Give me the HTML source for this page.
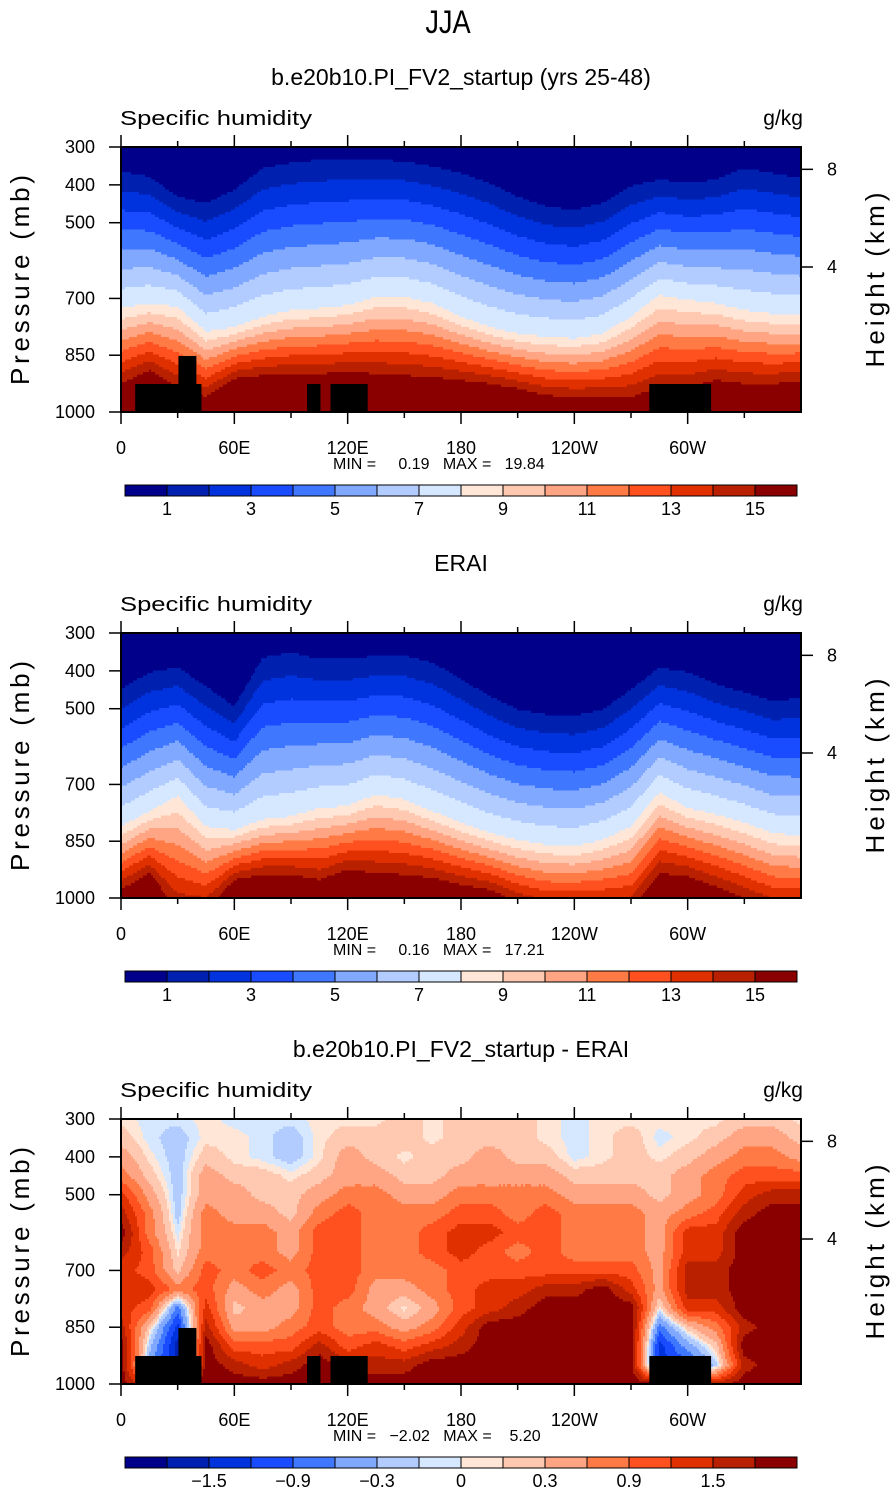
<!DOCTYPE html>
<html><head><meta charset="utf-8">
<style>
html,body{margin:0;padding:0;background:#fff;}
body{width:895px;height:1493px;overflow:hidden;}
svg{display:block;font-family:"Liberation Sans",sans-serif;}
.pre{white-space:pre;}
</style></head>
<body>
<svg id="fig" width="895" height="1493" viewBox="0 0 895 1493" xmlns="http://www.w3.org/2000/svg">
<text x="448" y="33" text-anchor="middle" font-size="32" font-weight="300" transform="scale(0.85,1)" style="transform-origin:448px 0" fill="#000">JJA</text>
</svg>
<script>
// ---------- data ----------
const lons = [0,15,30,45,60,75,90,105,120,135,150,165,180,195,210,225,240,255,270,285,300,315,330,345,360];
// model: pressure (mb) of q=1, q=8, q=15 contours
const modelP1  = [364,378,431,448,413,356,342,334,332,334,338,351,369,395,431,457,466,448,404,386,395,386,356,369,382];
const modelP8  = [726,713,722,788,775,748,731,726,718,695,695,713,748,775,793,801,806,793,748,691,704,713,731,740,744];
const modelP15 = [925,890,934,960,912,903,899,899,894,899,903,908,916,925,938,956,960,960,960,934,934,916,925,925,920];
// ERAI
const eraiP1  = [449,404,391,440,494,365,351,369,369,360,360,378,422,466,502,515,519,502,449,391,404,435,457,480,471];
const eraiP8  = [811,771,731,811,820,793,784,762,757,726,740,771,801,828,846,859,864,846,811,722,762,779,801,828,837];
const eraiP15 = [978,934,1030,1030,952,938,938,952,925,934,938,947,965,978,1010,1030,1030,1030,1030,934,943,970,1000,1030,1030];
// difference grid (g/kg): rows = pressure levels, cols = lons
const diffPres = [300,350,400,450,500,550,600,650,700,750,800,850,900,950,1000];
const diffVals = [
[0.05,-0.05,-0.05,0.05,-0.05,-0.05,-0.05,0.05,0.05,0.05,0.2,0.05,0.2,0.2,0.2,0.05,-0.05,0.05,0.05,0.05,0.05,0.05,0.2,0.2,0.05],
[0.2,-0.05,-0.2,0.05,0.05,-0.05,-0.2,0.05,0.2,0.2,0.2,0.05,0.2,0.2,0.2,0.05,-0.05,0.05,0.2,-0.05,0.05,0.2,0.45,0.45,0.2],
[0.45,0.05,-0.2,0.2,0.05,-0.05,-0.2,0.05,0.45,0.2,0.05,0.2,0.2,0.45,0.2,0.2,-0.05,0.05,0.2,0.05,0.2,0.45,0.75,0.75,0.45],
[0.75,0.2,-0.2,0.45,0.2,0.2,0.05,0.2,0.45,0.45,0.2,0.2,0.45,0.45,0.45,0.45,0.2,0.2,0.2,0.2,0.45,0.75,1.05,1.05,1.05],
[1.35,0.45,-0.2,0.45,0.45,0.2,0.2,0.45,0.75,0.75,0.45,0.45,0.75,0.75,0.75,0.75,0.45,0.45,0.45,0.2,0.45,0.75,1.35,1.65,1.65],
[1.65,0.75,-0.2,0.75,0.45,0.45,0.2,0.75,1.05,0.75,0.75,0.75,1.05,1.05,0.75,1.05,0.75,0.75,0.75,0.45,0.75,1.05,1.65,2.0,2.0],
[2.0,0.75,-0.05,0.75,0.75,0.75,0.45,1.05,1.05,0.75,0.75,1.05,1.35,1.35,1.05,1.05,0.75,0.75,0.75,0.45,1.35,1.35,2.0,2.0,2.0],
[1.65,1.05,0.05,0.75,0.75,0.75,0.45,1.05,1.05,0.75,0.75,1.05,1.35,1.05,0.75,1.05,0.75,0.75,0.75,0.45,1.35,1.35,2.0,2.0,2.0],
[1.35,1.05,0.2,1.05,0.75,1.05,0.75,1.05,1.05,0.75,0.75,0.75,1.05,1.05,1.05,1.05,1.05,1.05,1.05,0.45,1.65,1.65,2.0,2.0,2.0],
[1.35,1.35,0.75,1.05,0.45,0.75,0.45,1.05,1.05,0.45,0.45,0.75,1.05,1.35,1.35,1.65,1.65,2.0,1.35,0.45,1.65,1.65,2.0,2.0,2.0],
[1.35,1.05,-0.75,1.35,0.2,0.45,0.45,1.05,0.75,0.45,0.05,0.45,1.05,1.35,1.65,2.0,2.0,2.0,2.0,0.05,1.35,1.35,2.0,2.0,2.0],
[1.65,0.2,-1.35,1.65,0.45,0.45,0.75,1.05,0.75,0.75,0.45,0.75,1.35,2.0,2.0,2.0,2.0,2.0,2.0,-0.75,0.2,0.75,1.65,2.0,2.0],
[2.0,-0.2,-1.65,2.0,1.05,1.05,1.05,1.65,1.05,1.35,1.05,1.35,1.65,2.0,2.0,2.0,2.0,2.0,2.0,-1.35,-0.45,0.2,2.0,2.0,2.0],
[2.0,-0.45,-1.65,2.0,1.65,1.35,1.65,2.0,1.65,1.65,1.65,2.0,2.0,2.0,2.0,2.0,2.0,2.0,2.0,-1.35,-1.05,-0.2,1.65,2.0,2.0],
[2.0,1.05,2.0,2.0,2.0,2.0,2.0,2.0,2.0,2.0,2.0,2.0,2.0,2.0,2.0,2.0,2.0,2.0,2.0,2.0,2.0,1.65,2.0,2.0,2.0]
];
const absLevels  = [1,2,3,4,5,6,7,8,9,10,11,12,13,14,15];
const absLabels  = ["1","3","5","7","9","11","13","15"];
const diffLevels = [-1.8,-1.5,-1.2,-0.9,-0.6,-0.3,-0.1,0,0.1,0.3,0.6,0.9,1.2,1.5,1.8];
const diffLabels = ["\u22121.5","\u22120.9","\u22120.3","0","0.3","0.9","1.5"];
const pTicks = [300,400,500,700,850,1000];
const hTicks = [8,4];
const hTickP = [359,617];
const xTicks = [0,60,120,180,240,300];
const xLabels = ["0","60E","120E","180","120W","60W"];
// land (lon range, top pressure)
const landLon0 = [7.5,30.4,98.5,110.9,279.7];
const landLon1 = [42.6,39.9,105.6,130.6,312.4];
const landTop  = [926,852,926,926,926];
const colors = ["#00008a","#0020b0","#0033dd","#1a4cff","#4077ff","#80a8ff","#b3ccff","#d6e8ff","#ffe6d6","#ffc8b0","#ffa583","#ff7a45","#ff5020","#e03000","#b82000","#8a0000"];

// ---------- helpers ----------
const NS="http://www.w3.org/2000/svg";
const svg=document.getElementById('fig');
function mk(tag,attrs,parent){const e=document.createElementNS(NS,tag);for(const k in attrs)e.setAttribute(k,attrs[k]);(parent||svg).appendChild(e);return e;}
const X0=121,X1=801,W=680,H=265;
function interpLon(arr,lon){let i=Math.min(Math.floor(lon/15),23);const t=(lon-lons[i])/15;return arr[i]*(1-t)+arr[i+1]*t;}
function absField(P1,P8,P15){return function(lon,p){const a=interpLon(P1,lon),b=interpLon(P8,lon),c=interpLon(P15,lon);
  if(p<a)return 0.5; if(p<b)return 1+7*(p-a)/(b-a); return 8+7*(p-b)/(c-b);};}
function diffField(lon,p){let i=Math.min(Math.floor(lon/15),23);const t=(lon-lons[i])/15;
  let j=Math.min(Math.floor((p-300)/50),13);const s=(p-diffPres[j])/50;
  const v=diffVals[j][i]*(1-t)*(1-s)+diffVals[j][i+1]*t*(1-s)+diffVals[j+1][i]*(1-t)*s+diffVals[j+1][i+1]*t*s;return v;}
function boxIdx(v,levels){let k=0;while(k<levels.length&&v>levels[k])k++;return k;}

function panel(top,title,field,levels,labels,minmax,land){
  const g=mk('g',{});
  
  
  const xs=lon=>X0+lon/360*W, ys=p=>top+(p-300)/700*H;
  const t=mk('text',{x:461,y:top-62,'text-anchor':'middle','font-size':23},g);t.textContent=title;
  
  const st=mk('text',{x:120,y:top-22,'font-size':20,textLength:192,lengthAdjust:'spacingAndGlyphs'},g);st.textContent='Specific humidity';
  
  const un=mk('text',{x:803,y:top-22,'text-anchor':'end','font-size':21},g);un.textContent='g/kg';
  
  // field cells
  const cg=mk('g',{'shape-rendering':'crispEdges'},g);
  
  const cw=2,ch=2.5,nx=340,ny=106;
  for(let r=0;r<ny;r++){
    const p=300+(r+0.5)*ch/H*700;
    let start=0,cur=-1;
    for(let c=0;c<=nx;c++){
      let k=-2;
      if(c<nx){const lon=(c+0.5)*cw/W*360;k=boxIdx(field(lon,p),levels);}
      if(k!==cur){
        if(cur>=0){const rc=mk('rect',{x:X0+start*cw,y:top+r*ch,width:(c-start)*cw,height:ch+0.3,fill:colors[cur]},cg);
          }
        start=c;cur=k;}
    }
  }
  if(land){for(let i=0;i<landLon0.length;i++){const r=mk('rect',{x:xs(landLon0[i]),y:ys(landTop[i]),width:xs(landLon1[i])-xs(landLon0[i]),height:top+H-ys(landTop[i]),fill:'#000'},g);
    }}
  const fr=mk('rect',{x:X0,y:top,width:W,height:H,fill:'none',stroke:'#000','stroke-width':2},g);
  
  // x ticks
  for(let l=0;l<=330;l+=30){const x=xs(l),len=(l%60===0)?12:6;
    mk('line',{x1:x,x2:x,y1:top,y2:top-len,stroke:'#000','stroke-width':1.5},g);
    mk('line',{x1:x,x2:x,y1:top+H,y2:top+H+len,stroke:'#000','stroke-width':1.5},g);}
  xTicks.forEach((l,i)=>{const tx=mk('text',{x:xs(l),y:top+H+42,'text-anchor':'middle','font-size':18},g);tx.textContent=xLabels[i];
    });
  pTicks.forEach(p=>{const y=ys(p);mk('line',{x1:X0-12,x2:X0,y1:y,y2:y,stroke:'#000','stroke-width':1.5},g);
    const tx=mk('text',{x:95,y:y+6,'text-anchor':'end','font-size':18},g);tx.textContent=p;
    });
  hTicks.forEach((h,i)=>{const y=ys(hTickP[i]);mk('line',{x1:X1,x2:X1+12,y1:y,y2:y,stroke:'#000','stroke-width':1.5},g);
    const tx=mk('text',{x:827,y:y+6,'font-size':18},g);tx.textContent=h;
    });
  const yt=mk('text',{x:0,y:0,'text-anchor':'middle','font-size':26,textLength:210,lengthAdjust:'spacing',transform:`translate(29,${top+133}) rotate(-90)`},g);yt.textContent='Pressure (mb)';
  
  const ht=mk('text',{x:0,y:0,'text-anchor':'middle','font-size':26,textLength:175,lengthAdjust:'spacing',transform:`translate(884,${top+133}) rotate(-90)`},g);ht.textContent='Height (km)';
  
  const mm=mk('text',{x:333,y:top+H+57,'font-size':16,'class':'pre'},g);mm.textContent=minmax;
  
  // colorbar
  const cb=mk('g',{},g);
  const bw=672/16,by=top+338;
  colors.forEach((c,i)=>{const r=mk('rect',{x:125+i*bw,y:by,width:bw,height:11,fill:c,stroke:'#000','stroke-width':1},cb);
    });
  const step=labels.length===8?[1,3,5,7,9,11,13,15]:[2,4,6,8,10,12,14];
  labels.forEach((lb,i)=>{const tx=mk('text',{x:125+step[i]*bw,y:by+30,'text-anchor':'middle','font-size':18},cb);tx.textContent=lb;
    });
}
panel(147,'b.e20b10.PI_FV2_startup (yrs 25-48)',absField(modelP1,modelP8,modelP15),absLevels,absLabels,'MIN =     0.19   MAX =   19.84',true);
panel(633,'ERAI',absField(eraiP1,eraiP8,eraiP15),absLevels,absLabels,'MIN =     0.16   MAX =   17.21',false);
panel(1119,'b.e20b10.PI_FV2_startup - ERAI',diffField,diffLevels,diffLabels,'MIN =   \u22122.02   MAX =    5.20',true);
</script>
</body></html>
